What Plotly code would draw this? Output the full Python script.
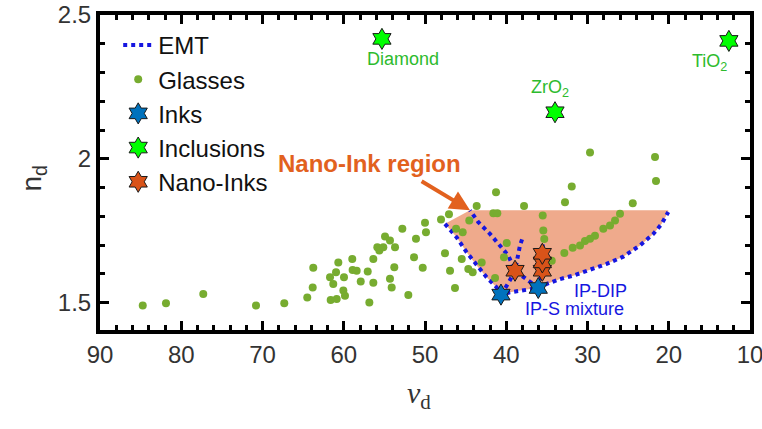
import plotly.graph_objects as go

# ---------------- data ----------------
glass_vd = [84.74, 81.88, 77.29, 70.80, 67.32, 64.49, 63.82, 63.75, 61.69, 61.29,
            60.95, 60.67, 61.61, 60.87, 60.05, 59.85, 59.97, 58.95, 58.91, 58.41,
            57.91, 57.05, 56.36, 56.36, 56.85, 55.87, 55.62, 54.92, 55.13, 54.31,
            53.69, 53.78, 54.31, 54.10, 52.79, 51.35, 51.11, 52.05,
            31.94, 21.57, 41.26, 32.77, 24.43, 43.64, 37.81, 47.05, 48.03, 44.55,
            41.59, 41.10, 35.51, 35.44, 35.32, 26.00, 26.61, 27.23, 28.05, 29.08,
            29.69, 30.31, 30.92, 31.82, 32.85, 50.00, 49.88, 46.18, 45.36, 47.54,
            39.94, 45.48, 50.28, 46.92, 44.67, 44.13, 43.02, 40.28, 34.40, 41.38,
            46.31, 29.69, 21.69]
glass_nd = [1.490, 1.498, 1.530, 1.490, 1.498, 1.518, 1.553, 1.621, 1.588, 1.565,
            1.606, 1.640, 1.509, 1.513, 1.542, 1.524, 1.588, 1.652, 1.614, 1.611,
            1.574, 1.608, 1.569, 1.652, 1.501, 1.693, 1.681, 1.730, 1.693, 1.716,
            1.693, 1.623, 1.583, 1.553, 1.757, 1.658, 1.722, 1.527,
            1.904, 1.923, 1.884, 1.849, 1.846, 1.836, 1.836, 1.807, 1.789, 1.786,
            1.811, 1.811, 1.803, 1.751, 1.721, 1.809, 1.786, 1.768, 1.757, 1.733,
            1.722, 1.714, 1.699, 1.691, 1.673, 1.778, 1.745, 1.757, 1.745, 1.672,
            1.707, 1.652, 1.621, 1.611, 1.617, 1.606, 1.640, 1.658, 1.646, 1.586,
            1.551, 2.022, 2.006]

ink_names = ["IP-S mixture", "IP-DIP"]
ink_vd = [40.65, 36.06]
ink_nd = [1.528, 1.551]

incl_names = ["Diamond", "ZrO<sub>2</sub>", "TiO<sub>2</sub>"]
incl_vd = [55.3, 34.0, 12.6]
incl_nd = [2.417, 2.162, 2.410]

nano_vd = [38.92, 35.56, 35.56, 35.56]
nano_nd = [1.611, 1.611, 1.640, 1.670]

# EMT curves
emt_a_vd = [47.54, 46.10, 44.87, 43.64, 42.41, 41.18, 40.65, 39.54, 37.90, 36.06,
            35.02, 33.38, 31.75, 29.69, 27.64, 25.59, 23.54, 21.90, 20.87, 20.06]
emt_a_nd = [1.774, 1.727, 1.675, 1.629, 1.588, 1.553, 1.528, 1.536, 1.544, 1.551,
            1.565, 1.582, 1.594, 1.614, 1.635, 1.660, 1.699, 1.739, 1.774, 1.815]
emt_b_vd = [36.06, 38.92, 39.75, 40.77, 42.00, 43.44, 44.46]
emt_b_nd = [1.551, 1.611, 1.664, 1.699, 1.739, 1.780, 1.821]
emt_c_vd = [40.65, 39.70, 38.92, 38.52, 38.31, 37.90]
emt_c_nd = [1.528, 1.570, 1.611, 1.664, 1.699, 1.733]
emt_d_vd = [36.06, 35.56, 35.56, 35.44]
emt_d_nd = [1.551, 1.611, 1.670, 1.739]

region_top_nd = 1.821
region_left_vd = 44.46

x_ticks = [90, 80, 70, 60, 50, 40, 30, 20, 10]
y_ticks = [1.5, 2, 2.5]
y_ticktext = ["1.5", "2", "2.5"]

# ---------------- colours ----------------
C_BLUE_LINE = "#1616E0"
C_GLASS = "#77AC30"
C_INK = "#0072BD"
C_INCL = "#00FF00"
C_NANO = "#D95319"
C_FILL = "#EFAA8C"
C_LABEL_GREEN = "#2DBB2D"
C_ORANGE_TXT = "#E2611E"

fig = go.Figure()

# region fill
fill_x = emt_a_vd + [emt_a_vd[-1], region_left_vd, emt_a_vd[0]]
fill_y = emt_a_nd + [region_top_nd, region_top_nd, emt_a_nd[0]]
fig.add_trace(go.Scatter(x=fill_x, y=fill_y, mode="lines", fill="toself",
                         fillcolor=C_FILL, line=dict(width=0), hoverinfo="skip",
                         showlegend=False))

# EMT lines
for i, (xs, ys) in enumerate([(emt_a_vd, emt_a_nd), (emt_b_vd, emt_b_nd),
                              (emt_c_vd, emt_c_nd), (emt_d_vd, emt_d_nd)]):
    fig.add_trace(go.Scatter(x=xs, y=ys, mode="lines", name="EMT",
                             line=dict(color=C_BLUE_LINE, width=4, dash="dot"),
                             showlegend=(i == 0), legendrank=1))

fig.add_trace(go.Scatter(x=glass_vd, y=glass_nd, mode="markers", name="Glasses",
                         marker=dict(color=C_GLASS, size=8), legendrank=2))
fig.add_trace(go.Scatter(x=ink_vd, y=ink_nd, mode="markers", name="Inks",
                         marker=dict(symbol="hexagram", color=C_INK, size=16,
                                     line=dict(color="#1a1a1a", width=1)), legendrank=3))
fig.add_trace(go.Scatter(x=incl_vd, y=incl_nd, mode="markers", name="Inclusions",
                         marker=dict(symbol="hexagram", color=C_INCL, size=16,
                                     line=dict(color="#1a1a1a", width=1)), legendrank=4))
fig.add_trace(go.Scatter(x=nano_vd, y=nano_nd, mode="markers", name="Nano-Inks",
                         marker=dict(symbol="hexagram", color=C_NANO, size=16,
                                     line=dict(color="#1a1a1a", width=1)), legendrank=5))

ann = []
shifts = [(21, -20), (-5, 24), (-19, -22)]
for name, xv, yv, (dx, dy) in zip(incl_names, incl_vd, incl_nd, shifts):
    ann.append(dict(x=xv, y=yv, text=name, showarrow=False, xshift=dx, yshift=dy,
                    font=dict(family="Liberation Sans, Arial", size=18, color=C_LABEL_GREEN)))

ann.append(dict(x=ink_vd[1], y=ink_nd[1], text="IP-DIP", showarrow=False,
                xshift=62, yshift=-3,
                font=dict(family="Liberation Sans, Arial", size=18, color=C_BLUE_LINE)))
ann.append(dict(x=ink_vd[1], y=ink_nd[1], text="IP-S mixture", showarrow=False,
                xshift=36, yshift=-21,
                font=dict(family="Liberation Sans, Arial", size=18, color=C_BLUE_LINE)))

ann.append(dict(x=region_left_vd, y=region_top_nd, ax=50.6, ay=1.925,
                axref="x", ayref="y", text="", showarrow=True,
                arrowhead=2, arrowsize=1.0, arrowwidth=4, arrowcolor=C_ORANGE_TXT))
ann.append(dict(x=56.8, y=1.984, text="<b>Nano-Ink region</b>", showarrow=False,
                font=dict(family="Liberation Sans, Arial", size=24, color=C_ORANGE_TXT)))

# axis titles
ann.append(dict(xref="paper", yref="paper", x=0.49, y=-0.205, yanchor="middle",
                text="<i>ν</i><sub>d</sub>", showarrow=False,
                font=dict(family="Liberation Serif, Times New Roman", size=30, color="#333333")))
ann.append(dict(xref="paper", yref="paper", x=-0.072, y=0.48, xanchor="right",
                text="n<sub>d</sub>", showarrow=False, textangle=-90,
                font=dict(family="Liberation Sans, Arial", size=28, color="#333333")))

fig.update_layout(
    width=762, height=429,
    margin=dict(l=100, r=12, t=15, b=99, autoexpand=False),
    paper_bgcolor="white", plot_bgcolor="white",
    font=dict(family="Liberation Sans, Arial", color="#222222"),
    annotations=ann,
    legend=dict(x=0.028, y=0.975, xanchor="left", yanchor="top",
                bgcolor="rgba(255,255,255,0)", font=dict(size=24, color="#111111"),
                tracegroupgap=0),
    showlegend=True,
)

axis_common = dict(showline=True, linecolor="black", linewidth=4, mirror="allticks",
                   ticks="inside", ticklen=9, tickwidth=3, tickcolor="black",
                   showgrid=False, zeroline=False, automargin=False,
                   ticklabeloverflow="allow",
                   tickfont=dict(size=24, color="#333333"))
fig.update_xaxes(range=[90, 10], tickmode="array", tickvals=x_ticks,
                 minor=dict(ticks="inside", ticklen=5, tickwidth=3, tickcolor="black", dtick=2,
                            showgrid=False),
                 **axis_common)
fig.update_yaxes(range=[1.405, 2.5], tickmode="array", tickvals=y_ticks,
                 ticktext=y_ticktext,
                 minor=dict(ticks="inside", ticklen=5, tickwidth=3, tickcolor="black", dtick=0.1,
                            tick0=1.5, showgrid=False),
                 **axis_common)

fig.write_html("out.html")
